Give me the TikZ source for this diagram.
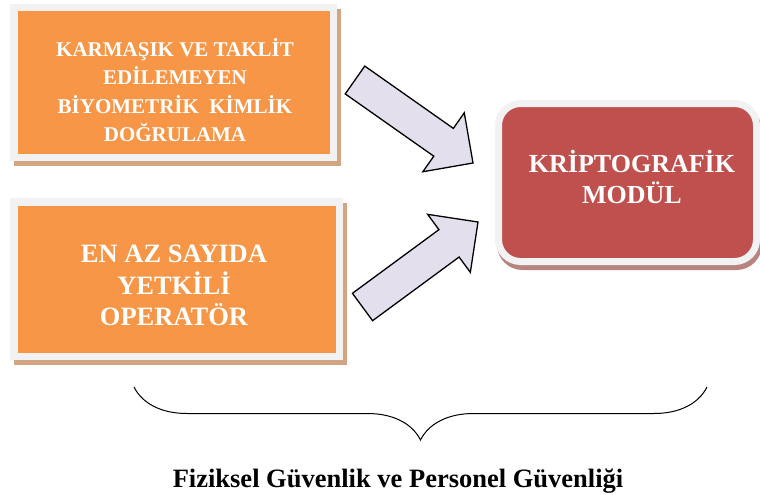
\documentclass[tikz,border=0pt]{standalone}
\usepackage{fontspec}
\setmainfont{Liberation Serif}
\usetikzlibrary{calc}
\usetikzlibrary{decorations.pathreplacing}
\definecolor{turuncu}{HTML}{F79646}
\definecolor{kiremit}{HTML}{C0504D}
\definecolor{cerceve}{HTML}{F2F2F2}
\definecolor{golge}{HTML}{D3A583}
\definecolor{kgolge}{HTML}{B88480}
\definecolor{oklila}{HTML}{E4DFEC}

\tikzset{
	kutu/.style={rectangle,fill=turuncu,draw=cerceve,line width=7.5pt,inner sep=0pt,
		preaction={draw=golge,fill=golge,line width=7.5pt,transform canvas={shift={(4pt,-5pt)}}}},
	modul/.style={rectangle,rounded corners=22pt,fill=kiremit,draw=cerceve,line width=7pt,inner sep=0pt,
		preaction={draw=kgolge,fill=kgolge,line width=7pt,transform canvas={shift={(2pt,-5pt)}}}},
	yazi/.style={text=white,align=center,inner sep=0pt},
	blokok/.style={fill=oklila,draw=black,line width=1.3pt}
}

% kalin ok: #1 kuyruk ortasi, #2 uc
\newcommand{\kalinok}[2]{%
	\coordinate (kb) at ($(#2)!36pt!(#1)$);
	\draw[blokok] ($(#1)!17pt!90:(#2)$) -- ($(kb)!17pt!90:(#2)$) -- ($(kb)!36pt!90:(#2)$) -- (#2)
		-- ($(kb)!36pt!-90:(#2)$) -- ($(kb)!17pt!-90:(#2)$) -- ($(#1)!17pt!-90:(#2)$) -- cycle;}

\begin{document}
\begin{tikzpicture}[x=1pt,y=-1pt]
	\useasboundingbox (0,0) rectangle (760,495);
	% Kutular
	\node[kutu,minimum width=319.5,minimum height=149.5] (bio) at (173.5,82.5) {};
	\node[kutu,minimum width=325.5,minimum height=154.5] (opr) at (176.5,279) {};
	\node[modul,minimum width=258,minimum height=158] (kripto) at (627.5,182.5) {};
	\node[yazi,font=\bfseries\fontsize{21}{28.5}\selectfont] (bioyazi) at (175,90)
		{KARMAŞIK VE TAKLİT\\EDİLEMEYEN\\BİYOMETRİK~~KİMLİK\\DOĞRULAMA};
	\node[yazi,font=\bfseries\fontsize{26.5}{31.5}\selectfont] (opryazi) at (174,285.7)
		{EN AZ SAYIDA\\YETKİLİ\\OPERATÖR};
	\node[yazi,font=\bfseries\fontsize{26}{31}\selectfont] (kriptoyazi) at (632,176.5)
		{KRİPTOGRAFİK\\MODÜL};
	% Oklar
	\coordinate (ok1a) at (355,80);
	\coordinate (ok1b) at (473,163);
	\coordinate (ok2a) at (362.5,307);
	\coordinate (ok2b) at (478,222);
	\kalinok{ok1a}{ok1b}
	\kalinok{ok2a}{ok2b}
	% Parantez
	\coordinate (bl) at (134,387);
	\coordinate (br) at (707,387);
	\draw[line width=1pt,decorate,decoration={brace,mirror,amplitude=53pt}] (bl) -- (br);
	\node[font=\bfseries\fontsize{26.5}{30}\selectfont,inner sep=0pt,anchor=base] (guv) at (398,487)
		{Fiziksel Güvenlik ve Personel Güvenliği};
\end{tikzpicture}
\end{document}
